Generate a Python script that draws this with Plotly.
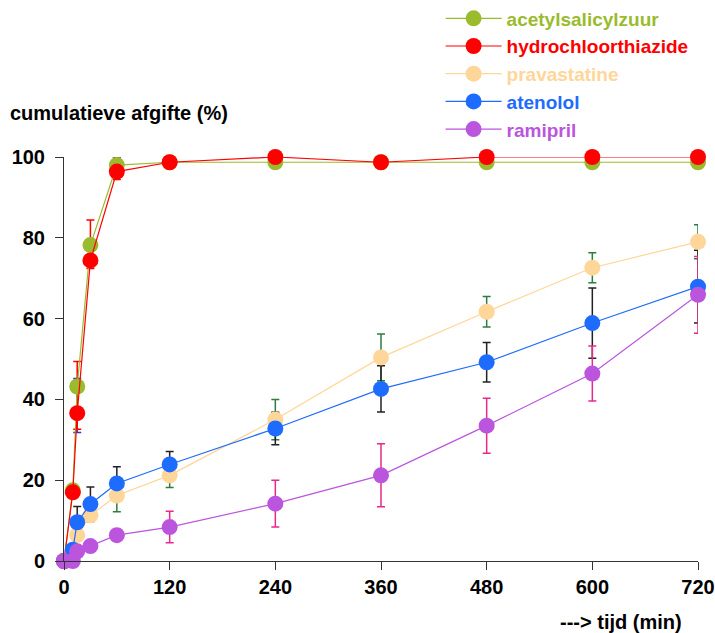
import plotly.graph_objects as go

times = [0, 10, 15, 30, 60, 120, 240, 360, 480, 600, 720]

acetyl = [0, 17.5, 43.2, 78.2, 98.0, 98.7, 98.7, 98.7, 98.7, 98.7, 98.7]
acetyl_err_plus = [0, 1, 2, 1, 2, 0.5, 0.5, 0.5, 0.5, 0.5, 0.5]
acetyl_err_minus = [0, 1, 11.4, 5.3, 2, 0.5, 0.5, 0.5, 0.5, 0.5, 0.5]

hydro = [0, 17.0, 36.6, 74.4, 96.4, 98.7, 100, 98.7, 100, 100, 100]
hydro_err_plus = [0, 1, 12.8, 10, 3.3, 0.5, 0.3, 0.3, 0.3, 0.3, 0.3]
hydro_err_minus = [0, 1, 4, 2, 2, 0.5, 0.3, 0.3, 0.3, 0.3, 0.3]

prava = [0, 2.0, 6.4, 11.3, 16.2, 21.2, 35.0, 50.4, 61.7, 72.6, 79.0]
prava_err = [0, 1, 1.5, 1.6, 4, 3, 5, 5.8, 3.8, 3.7, 4.2]

ateno = [0, 2.8, 9.6, 14.1, 19.2, 23.9, 32.8, 42.6, 49.2, 58.9, 67.9]
ateno_err = [0, 1.3, 3.9, 4.2, 4.1, 3.2, 4.0, 5.7, 4.9, 8.7, 9.0]

rami = [0, 0, 2.4, 3.7, 6.4, 8.4, 14.2, 21.2, 33.5, 46.4, 65.9]
rami_err = [0, 0, 0.5, 1, 1.5, 3.9, 5.8, 7.8, 6.8, 6.8, 9.5]

x_ticks = [0, 120, 240, 360, 480, 600, 720]
y_ticks = [0, 20, 40, 60, 80, 100]

series = [
    ("acetylsalicylzuur", acetyl, acetyl_err_plus, acetyl_err_minus, "#9bbb2e", "#2040c8"),
    ("hydrochloorthiazide", hydro, hydro_err_plus, hydro_err_minus, "#ff0000", "#ff0000"),
    ("pravastatine", prava, prava_err, prava_err, "#ffd699", "#2e7d40"),
    ("atenolol", ateno, ateno_err, ateno_err, "#1e6bff", "#222222"),
    ("ramipril", rami, rami_err, rami_err, "#bb55dd", "#e8288c"),
]

fig = go.Figure()

# error bars first (below all markers)
for name, vals, ep, em, col, ecol in series:
    fig.add_trace(go.Scatter(
        x=times, y=vals, mode="markers",
        marker=dict(size=1, color="rgba(0,0,0,0)"),
        error_y=dict(type="data", array=ep, arrayminus=em, symmetric=False,
                     color=ecol, thickness=1.5, width=4),
        showlegend=False, hoverinfo="skip", cliponaxis=False,
    ))

for i, (name, vals, ep, em, col, ecol) in enumerate(series):
    fig.add_trace(go.Scatter(
        x=times, y=vals, mode="lines+markers",
        name=f"<b><span style='color:{col}'>{name}</span></b>",
        line=dict(color=col, width=1.2),
        marker=dict(size=16, color=col),
        legendgroup=f"g{i}",
        cliponaxis=False,
    ))

fig.update_layout(
    width=715, height=633,
    margin=dict(l=64, r=17, t=157, b=72, autoexpand=False),
    plot_bgcolor="white", paper_bgcolor="white",
    font=dict(family="Liberation Sans, Arial, sans-serif", size=20, color="black"),
    showlegend=True,
    legend=dict(x=0.594, y=1.39, xanchor="left", yanchor="top",
                font=dict(size=19), tracegroupgap=0, itemwidth=56,
                bgcolor="rgba(0,0,0,0)"),
    xaxis=dict(range=[0, 720], tickvals=x_ticks, ticktext=[f"<b>{v}</b>" for v in x_ticks],
               showline=True, linecolor="#333", linewidth=1, ticks="outside", ticklen=8,
               tickcolor="#333", showgrid=False, zeroline=False, tickfont=dict(size=20)),
    yaxis=dict(range=[0, 100], tickvals=y_ticks, ticktext=[f"<b>{v}</b>" for v in y_ticks],
               showline=True, linecolor="#333", linewidth=1, ticks="outside", ticklen=8,
               tickcolor="#333", showgrid=False, zeroline=False, tickfont=dict(size=20),
               ticklabelstandoff=6),
    annotations=[
        dict(text="<b>cumulatieve afgifte (%)</b>", xref="paper", yref="paper",
             x=-0.0883, y=1.109, xanchor="left", yanchor="middle", showarrow=False,
             font=dict(size=20)),
        dict(text="<b>---> tijd (min)</b>", xref="paper", yref="paper",
             x=0.8785, y=-0.151, xanchor="center", yanchor="middle", showarrow=False,
             font=dict(size=20)),
    ],
)

fig.write_html(
    "out.html",
    config={"displayModeBar": False},
    post_script="document.body.style.margin='0px';document.body.style.overflow='hidden';",
)
